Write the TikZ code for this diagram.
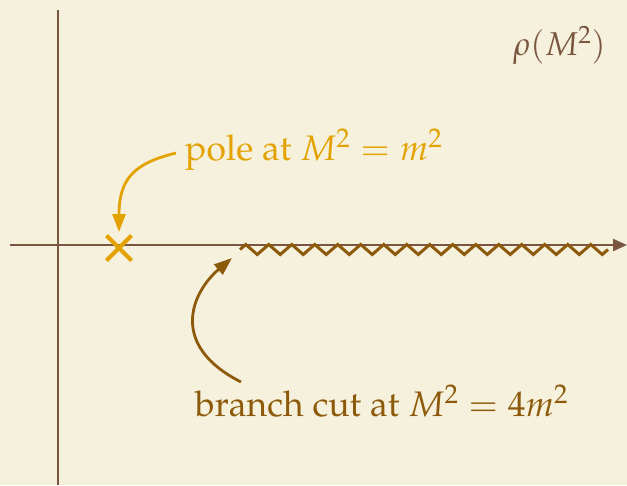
\documentclass[tikz,border=0pt]{standalone}
\usepackage[T1]{fontenc}
\usepackage{mathpazo}
\usepackage{xcolor}
\usetikzlibrary{arrows.meta, positioning, decorations.pathmorphing, shapes.misc}

\definecolor{paper}{HTML}{F6F1DC}
\definecolor{axisbrown}{HTML}{7A5640}
\definecolor{cutbrown}{HTML}{8C5A0A}
\definecolor{polegold}{HTML}{E3A200}

\begin{document}
\begin{tikzpicture}[
    x=1pt, y=-1pt,
    axis/.style={draw=axisbrown, line width=2.2pt},
    cutline/.style={draw=cutbrown, line width=3pt,
                    decorate, decoration={zigzag, segment length=23pt, amplitude=5pt}},
    pointer/.style={-{Triangle[length=18pt, width=13pt]}, line width=2.8pt},
    label/.style={font=\fontsize{35.5}{40}\selectfont, inner sep=0pt, anchor=base west}
]

% Background
\fill[paper] (0,0) rectangle (627,485);
\useasboundingbox (0,0) rectangle (627,485);

% Axes
\coordinate (yaxbot) at (58,485);
\coordinate (yaxtop) at (58,10);
\coordinate (xaxleft) at (10,245);
\coordinate (xaxright) at (627,245);
\draw[axis] (yaxbot) -- (yaxtop);
\draw[axis, -{Triangle[length=14pt, width=12pt]}] (xaxleft) -- (xaxright);

% Branch cut
\coordinate (cutstart) at (240,249.5);
\coordinate (cutend) at (608,249.5);
\draw[cutline] (cutstart) -- (cutend);

% Pole
\node[draw=polegold, line width=4pt, cross out, minimum size=21pt, inner sep=0pt] (pole) at (119,248) {};

% Labels
\node[label, text=axisbrown, font=\fontsize{33}{38}\selectfont] (rho) at (513,55) {$\rho(M^2)$};
\node[label, text=polegold] (polelab) at (185,160) {pole at $M^2 = m^2$};
\node[label, text=cutbrown] (cutlab) at (195,416) {branch cut at $M^2 = 4m^2$};

% Pointers
\coordinate (polestart) at (176,153);
\coordinate (poletip) at (119,232);
\coordinate (cutfrom) at (241,382);
\coordinate (cuttip) at (232,258);
\draw[pointer, draw=polegold] (polestart)
    .. controls (135,163) and (119,178) .. (poletip);
\draw[pointer, draw=cutbrown] (cutfrom)
    .. controls (168,345) and (192,292) .. (cuttip);

\end{tikzpicture}
\end{document}
